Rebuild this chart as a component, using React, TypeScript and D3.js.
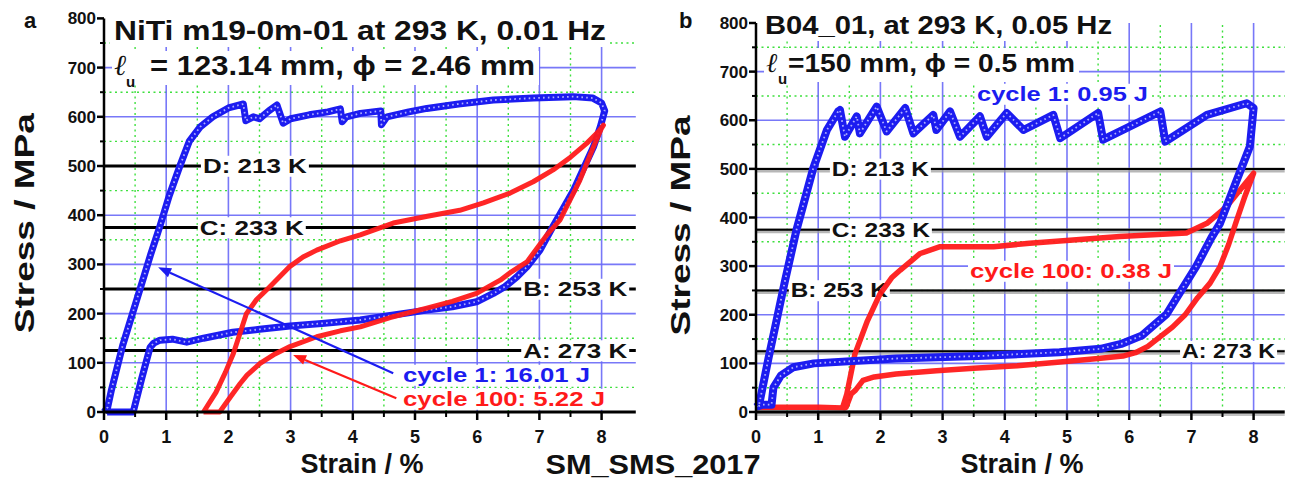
import React from 'react';
import * as d3 from 'd3';

// ---- data ----
const strainTicks = [0, 1, 2, 3, 4, 5, 6, 7, 8];
const strainMinor = [0.5, 1.5, 2.5, 3.5, 4.5, 5.5, 6.5, 7.5];
const stressTicks = [0, 100, 200, 300, 400, 500, 600, 700, 800];
const stressMinor = [50, 150, 250, 350, 450, 550, 650, 750];

const refStress = [125, 250, 375, 500];
const refNames = ['A: 273 K', 'B: 253 K', 'C: 233 K', 'D: 213 K'];

// panel a: NiTi m19-0m-01, [strain %, stress MPa]
const niTiCycle1: [number, number][] = [
  [0, 0], [0.06, 10], [0.12, 45], [0.3, 135], [0.58, 250], [0.75, 320], [0.9, 378],
  [1.05, 440], [1.22, 500], [1.37, 550], [1.55, 580], [1.75, 600], [2.0, 618], [2.24, 626],
  [2.28, 592], [2.4, 600], [2.5, 596], [2.65, 612], [2.78, 624], [2.88, 587], [3.0, 596],
  [3.3, 604], [3.6, 610], [3.8, 616], [3.83, 590], [3.9, 600], [4.12, 607], [4.45, 612],
  [4.46, 584], [4.55, 600], [4.9, 610], [5.19, 617], [5.7, 626], [6.26, 634], [6.9, 638],
  [7.54, 641], [7.86, 638], [8.0, 628], [8.05, 612], [7.98, 580], [7.87, 539], [7.55, 451],
  [7.2, 373], [7.01, 329], [6.8, 295], [6.64, 275], [6.45, 255], [6.26, 241], [5.99, 224],
  [5.6, 214], [5.19, 207], [4.6, 196], [4.12, 187], [3.5, 180], [2.99, 175], [2.5, 168],
  [2.07, 162], [1.6, 150], [1.33, 142], [1.1, 148], [0.9, 146], [0.8, 140], [0.74, 131],
  [0.6, 65], [0.47, 0], [0.2, 0], [0.05, 0],
];
const niTiCycle100: [number, number][] = [
  [1.6, 0], [1.8, 40], [1.95, 80], [2.08, 119], [2.2, 165], [2.29, 200], [2.45, 228],
  [2.67, 255], [2.99, 296], [3.2, 315], [3.42, 329], [3.8, 348], [4.12, 360], [4.65, 384],
  [5.2, 398], [5.72, 410], [6.1, 425], [6.53, 445], [6.9, 468], [7.22, 492], [7.5, 518],
  [7.76, 546], [7.95, 570], [8.03, 583], [8.0, 577], [7.87, 539], [7.65, 471], [7.33, 390],
  [7.12, 360], [6.8, 305], [6.55, 285], [6.37, 268], [5.99, 241], [5.6, 225], [5.19, 211],
  [4.6, 192], [4.12, 173], [3.8, 165], [3.42, 153], [2.99, 133], [2.75, 118], [2.51, 99],
  [2.3, 75], [2.19, 58], [2.0, 25], [1.86, 0], [1.6, 0],
];
const niTiEnergies = ['cycle 1: 16.01 J', 'cycle 100: 5.22 J'];
// arrows [from, to] in strain/stress
const niTiArrows: [number, number][][] = [
  [[4.65, 79], [0.87, 294]],
  [[4.7, 28], [3.04, 116]],
];

// panel b: B04_01
const b04Cycle1: [number, number][] = [
  [0, 10], [0.05, 15], [0.2, 110], [0.47, 272], [0.65, 374], [0.92, 501], [1.14, 580],
  [1.32, 618], [1.35, 621], [1.43, 566], [1.62, 608], [1.67, 573], [1.94, 628], [2.1, 577],
  [2.4, 625], [2.53, 573], [2.85, 611], [2.9, 580], [3.12, 618], [3.28, 566], [3.6, 608],
  [3.71, 566], [4.03, 615], [4.3, 580], [4.78, 611], [4.89, 563], [5.5, 615], [5.58, 560],
  [6.5, 618], [6.58, 556], [7.25, 611], [7.89, 635], [8.0, 625], [7.94, 546], [7.73, 477],
  [7.46, 388], [7.32, 358], [7.08, 300], [6.86, 255], [6.6, 201], [6.2, 157], [5.87, 140],
  [5.54, 130], [4.88, 123], [3.57, 115], [2.25, 110], [0.93, 100], [0.6, 92], [0.4, 75],
  [0.28, 50], [0.25, 15], [0.1, 15], [0, 10],
];
const b04Cycle100: [number, number][] = [
  [0, 10], [0.5, 10], [1.0, 10], [1.39, 8], [1.46, 37], [1.59, 119], [1.79, 187],
  [1.99, 242], [2.18, 276], [2.32, 292], [2.64, 326], [2.96, 340], [3.82, 340], [4.4, 347],
  [5.85, 361], [6.92, 368], [7.25, 388], [7.57, 423], [8.0, 491], [7.85, 440], [7.73, 395],
  [7.6, 345], [7.46, 299], [7.3, 265], [7.1, 235], [6.9, 200], [6.7, 175], [6.5, 155],
  [6.3, 135], [6.1, 122], [5.9, 115], [5.5, 110], [4.8, 102], [4.2, 95], [3.5, 90],
  [2.9, 85], [2.25, 78], [1.9, 72], [1.72, 65], [1.6, 45], [1.53, 37], [1.45, 10], [1.39, 5],
];
const b04Energies = ['cycle 1: 0.95 J', 'cycle 100: 0.38 J'];

const FONT = '"Liberation Sans", Arial, Helvetica, sans-serif';
const BLUE = '#1c1cf0';
const RED = '#ff1a1a';

function BoxText({ x, y, text, len, size, fill = '#111', anchor = 'start' }: any) {
  const left = anchor === 'middle' ? x - len / 2 : x;
  return (
    <g>
      <rect x={left - 2} y={y - size * 0.82} width={len + 4} height={size * 1.0} fill="white" />
      <text x={left} y={y} fontSize={size} fontWeight="bold" fill={fill}
        textLength={len} lengthAdjust="spacingAndGlyphs">{text}</text>
    </g>
  );
}

function Arrow({ from, to, color }: any) {
  const [x1, y1] = from, [x2, y2] = to;
  const a = Math.atan2(y2 - y1, x2 - x1);
  const L = 13, w = 5;
  const bx = x2 - L * Math.cos(a), by = y2 - L * Math.sin(a);
  const p = [
    [x2, y2],
    [bx + w * Math.sin(a), by - w * Math.cos(a)],
    [bx - w * Math.sin(a), by + w * Math.cos(a)],
  ];
  return (
    <g>
      <line x1={x1} y1={y1} x2={bx} y2={by} stroke={color} strokeWidth={2.2} />
      <polygon points={p.map(d => d.join(',')).join(' ')} fill={color} />
    </g>
  );
}

function Panel(props: any) {
  const { lay, cycle1, cycle100, energies, arrows } = props;
  const x = d3.scaleLinear().domain([0, lay.xMax]).range(lay.xRange);
  const y = d3.scaleLinear().domain([0, 800]).range(lay.yRange);
  const line = d3.line<[number, number]>()
    .x(d => x(d[0])).y(d => y(d[1]))
    .curve(d3.curveLinear);
  const xL = lay.xRange[0], xR = lay.xRange[1];
  const yB = y(0), yT = y(800);

  const blue = (
    <g>
      <path d={line(cycle1) || ''} fill="none" stroke={BLUE} strokeWidth={lay.blueW} strokeLinejoin="round" />
      <path d={line(cycle1) || ''} fill="none" stroke="#c9c9ff" strokeWidth={1.8}
        strokeDasharray="1.6 3.2" opacity={0.85} strokeLinejoin="round" />
    </g>
  );
  const red = (
    <path d={line(cycle100) || ''} fill="none" stroke={RED} strokeWidth={lay.redW}
      strokeLinejoin="round" opacity={0.95} />
  );

  return (
    <g fontFamily={FONT}>
      {/* grid */}
      {strainMinor.map(v => (
        <line key={'gx' + v} x1={x(v)} x2={x(v)} y1={yB} y2={yT}
          stroke="#3fe03f" strokeWidth={1.4} strokeDasharray="2 3.5" />
      ))}
      {stressMinor.map(v => (
        <line key={'gy' + v} x1={xL} x2={xR} y1={y(v)} y2={y(v)}
          stroke="#3fe03f" strokeWidth={1.4} strokeDasharray="2 3.5" />
      ))}
      {strainTicks.slice(1).map(v => (
        <line key={'Gx' + v} x1={x(v)} x2={x(v)} y1={yB} y2={yT}
          stroke="#6a6af8" strokeWidth={1.6} opacity={0.9} />
      ))}
      {stressTicks.slice(1, 8).map(v => (
        <line key={'Gy' + v} x1={xL} x2={xR} y1={y(v)} y2={y(v)}
          stroke="#6a6af8" strokeWidth={1.6} opacity={0.9} />
      ))}

      {/* reference stress levels */}
      {refStress.map(v => (
        <g key={'r' + v}>
          {lay.shadow && <line x1={xL} x2={xR} y1={y(v) + 1} y2={y(v) + 1}
            stroke="#9a9a9a" strokeWidth={5} opacity={0.7} />}
          <line x1={xL} x2={xR} y1={y(v)} y2={y(v)} stroke="#000"
            strokeWidth={lay.shadow ? 2 : 3} />
        </g>
      ))}

      {/* title block */}
      <rect x={lay.t1[0] - 4} y={2} width={lay.t1[2] + 8} height={lay.t1[1] - 2 + 7} fill="white" />
      <rect x={lay.t2[0] - 2} y={lay.t2[1] - 24} width={lay.t2[3] + lay.t2[2] - lay.t2[0] + 6} height={34} fill="white" />
      <text x={lay.t1[0]} y={lay.t1[1]} fontSize={lay.tSize} fontWeight="bold" fill="#111"
        textLength={lay.t1[2]} lengthAdjust="spacingAndGlyphs">{lay.title1}</text>
      <text x={lay.t2[0]} y={lay.t2[1]} fontSize={lay.tSize + 2} fontStyle="italic" fill="#111"
        fontFamily='"DejaVu Serif", serif'>ℓ</text>
      <text x={lay.t2[0] + 12} y={lay.t2[1] + 12} fontSize={15} fontWeight="bold" fill="#111">u</text>
      <text x={lay.t2[2]} y={lay.t2[1]} fontSize={lay.tSize} fontWeight="bold" fill="#111"
        textLength={lay.t2[3]} lengthAdjust="spacingAndGlyphs">{lay.title2}</text>

      {/* reference labels */}
      {refStress.map((v, i) => (
        <BoxText key={'rl' + v} x={x(lay.refLabelX[i])} y={y(v) + 7} text={refNames[i]}
          len={lay.refLabelLen[i]} size={21} />
      ))}

      {/* curves */}
      {lay.redOnTop ? <>{blue}{red}</> : <>{red}{blue}</>}

      {/* arrows */}
      {arrows && arrows.map((a: any, i: number) => (
        <Arrow key={'ar' + i} from={[x(a[0][0]), y(a[0][1])]} to={[x(a[1][0]), y(a[1][1])]}
          color={i === 0 ? BLUE : RED} />
      ))}

      {/* energy labels */}
      {energies.map((t: string, i: number) => (
        <BoxText key={'e' + i} x={lay.leg[i][0]} y={lay.leg[i][1]} text={t}
          len={lay.leg[i][2]} size={21} fill={i === 0 ? BLUE : RED} />
      ))}

      {/* axes */}
      {lay.shadow && <line x1={xL} x2={xR} y1={yB + 1} y2={yB + 1} stroke="#9a9a9a" strokeWidth={6} opacity={0.6} />}
      <line x1={xL} x2={xR} y1={yB} y2={yB} stroke="#000" strokeWidth={3} />
      <line x1={xL} x2={xL} y1={yB + 1} y2={yT} stroke="#000" strokeWidth={2.5} />
      {strainTicks.map(v => (
        <g key={'xt' + v}>
          <line x1={x(v)} x2={x(v)} y1={yB} y2={yB + 8} stroke="#000" strokeWidth={2.5} />
          <text x={x(v)} y={yB + 31} fontSize={18} fontWeight="bold" textAnchor="middle" fill="#111">{v}</text>
        </g>
      ))}
      {strainMinor.map(v => (
        <line key={'xm' + v} x1={x(v)} x2={x(v)} y1={yB} y2={yB + 5} stroke="#000" strokeWidth={2} />
      ))}
      {stressTicks.map(v => (
        <g key={'yt' + v}>
          <line x1={xL - 7} x2={xL} y1={y(v)} y2={y(v)} stroke="#000" strokeWidth={2.5} />
          <text x={xL - 8} y={y(v) + 6} fontSize={17} fontWeight="bold" textAnchor="end" fill="#111">{v}</text>
        </g>
      ))}
      {stressMinor.map(v => (
        <line key={'ym' + v} x1={xL - 4} x2={xL} y1={y(v)} y2={y(v)} stroke="#000" strokeWidth={2} />
      ))}

      <text transform={`translate(${lay.yLabelX},${(yB + yT) / 2 + 8}) rotate(-90)`} fontSize={27}
        fontWeight="bold" textAnchor="middle" fill="#111" textLength={220}
        lengthAdjust="spacingAndGlyphs">Stress / MPa</text>
      <text x={lay.xLabelX} y={473} fontSize={27} fontWeight="bold" textAnchor="middle"
        fill="#111">Strain / %</text>
      <text x={lay.letter[1]} y={28} fontSize={22} fontWeight="bold" fill="#111">{lay.letter[0]}</text>
    </g>
  );
}

const layoutA = {
  xMax: 8.55, xRange: [104, 635.8], yRange: [412, 18.4],
  title1: 'NiTi m19-0m-01 at 293 K, 0.01 Hz', title2: '= 123.14 mm, \u03d5 = 2.46 mm',
  t1: [114, 40, 492], t2: [114, 75, 150, 385], tSize: 27,
  refLabelX: [6.74, 6.74, 1.54, 1.59], refLabelLen: [104, 104, 104, 104],
  leg: [[403, 382, 187], [403, 406, 202]],
  shadow: false, redOnTop: true, blueW: 7, redW: 5,
  yLabelX: 34, xLabelX: 362, letter: ['a', 24],
};
const layoutB = {
  xMax: 8.5, xRange: [756, 1284.7], yRange: [412, 23],
  title1: 'B04_01, at 293 K, 0.05 Hz', title2: '=150 mm, \u03d5 = 0.5 mm',
  t1: [765, 34, 347], t2: [766, 72, 788, 287], tSize: 25,
  refLabelX: [6.85, 0.56, 1.22, 1.22], refLabelLen: [93, 97, 98, 97],
  leg: [[977, 101, 171], [970, 278, 202]],
  shadow: true, redOnTop: false, blueW: 8, redW: 5.5,
  yLabelX: 690, xLabelX: 1022, letter: ['b', 679],
};

export default function App() {
  return (
    <svg width={1290} height={480} style={{ position: 'absolute', left: 0, top: 0, background: 'white' }}>
      <rect width={1290} height={480} fill="white" />
      <Panel lay={layoutA} cycle1={niTiCycle1} cycle100={niTiCycle100} energies={niTiEnergies} arrows={niTiArrows} />
      <Panel lay={layoutB} cycle1={b04Cycle1} cycle100={b04Cycle100} energies={b04Energies} />
      <text x={653} y={474} fontSize={28} fontWeight="bold" textAnchor="middle" fill="#111"
        fontFamily={FONT} textLength={215} lengthAdjust="spacingAndGlyphs">SM_SMS_2017</text>
    </svg>
  );
}
